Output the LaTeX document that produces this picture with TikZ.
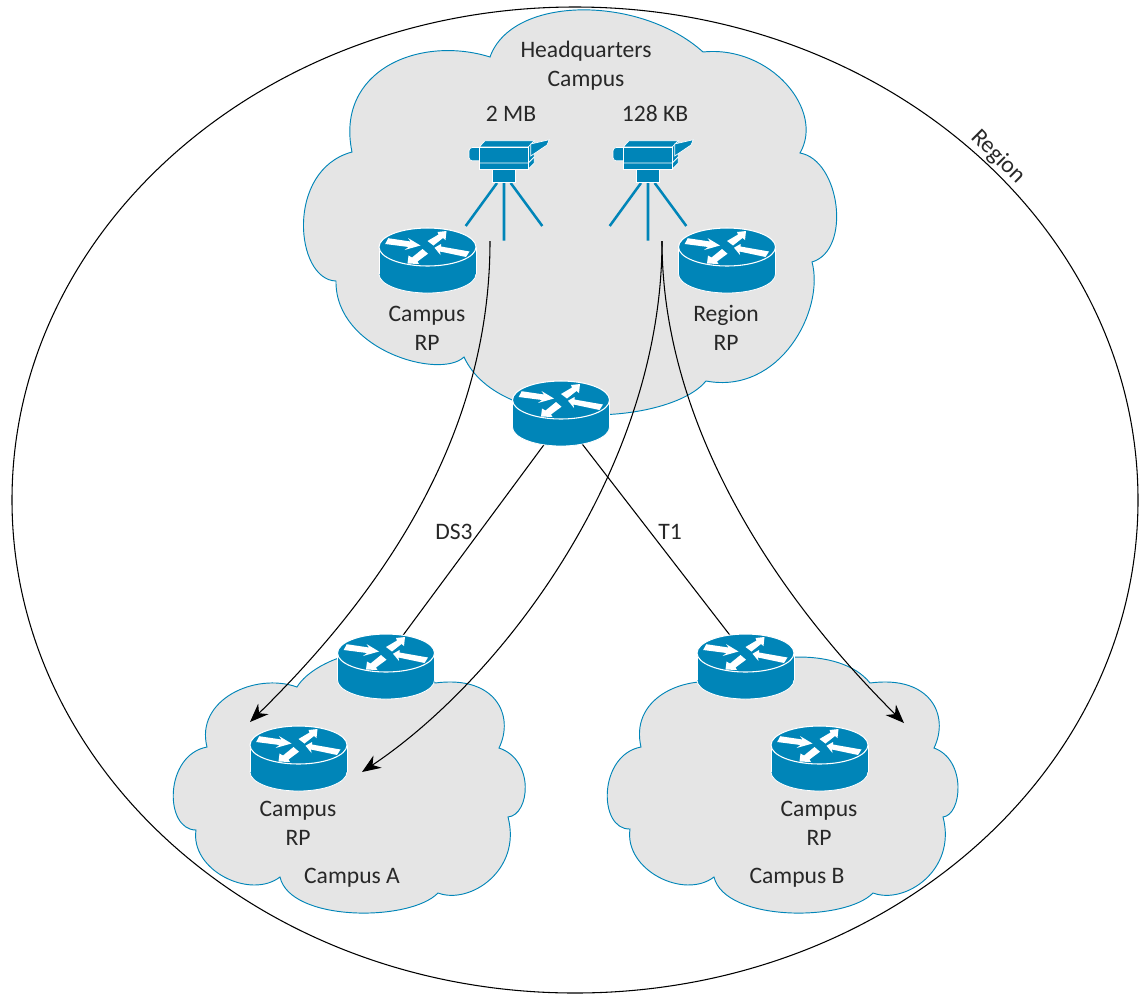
\documentclass[tikz,border=0pt]{standalone}
\usepackage{fontspec}
\setmainfont{Carlito}
\usetikzlibrary{arrows.meta,backgrounds}

\definecolor{ciscoblue}{RGB}{0,133,184}
\definecolor{cloudgrey}{RGB}{229,229,229}
\definecolor{labelgrey}{RGB}{40,40,40}

\tikzset{
  router/.pic={
    \fill[ciscoblue,draw=white,line width=.6pt] (0,27) ellipse (48.5 and 19);
    \fill[ciscoblue] (-48.5,0) rectangle (48.5,27);
    \draw[white,line width=.6pt] (-48.5,0) -- (-48.5,27) (48.5,0) -- (48.5,27);
    \fill[ciscoblue,draw=white,line width=.8pt] (0,0) ellipse (48.5 and 19);
    \fill[white] (-39.3,-8.8) -- (-17,-5.5) -- (-19.5,-9) -- (-7,-1.5) -- (-23,3) -- (-19,0) -- (-42.3,-3) -- cycle;
    \fill[white] (0,-6) -- (11,-12.5) -- (10,-15) -- (19,-16) -- (18,-7) -- (15.5,-9) -- (6,-1.5) -- cycle;
    \fill[white] (7,.7) -- (13.5,-3) -- (13.5,-.5) -- (42,4.5) -- (38.5,10) -- (12.5,4.5) -- (13,8) -- cycle;
    \fill[white] (-20,16.5) -- (-19,8.5) -- (-15.5,10.5) -- (-5,2) -- (0.5,6.7) -- (-10,14.5) -- (-8.5,17) -- cycle;
    \node[routerbox] (-box) at (0,13.5) {};
  },
  camera/.pic={
    \draw[ciscoblue,line width=1.9pt] (-7,1) -- (-38.3,44) (0,1) -- (0,58.7) (6.7,1) -- (38.3,44);
    \fill[ciscoblue,draw=white,line width=.5pt,rounded corners=2.5pt] (-35,-34.5) rectangle (-22,-21.2);
    \fill[ciscoblue,draw=white,line width=.5pt] (-24.7,-35) -- (-19,-41.3) -- (30.3,-41.3) -- (24.3,-35) -- cycle;
    \fill[ciscoblue,draw=white,line width=.5pt] (24.3,-35) -- (30.3,-41.3) -- (30.3,-19) -- (24.3,-13) -- cycle;
    \fill[ciscoblue,draw=white,line width=.5pt] (-24.7,-35) rectangle (24.3,-13);
    \draw[white,line width=.6pt] (-24.7,-19) -- (24.3,-19) -- (30.3,-25);
    \fill[ciscoblue,draw=white,line width=.5pt] (26.7,-38) -- (45.3,-42.3) -- (43,-37) -- (26.7,-26) -- cycle;
    \fill[ciscoblue,draw=white,line width=.5pt] (-11.3,-12.3) rectangle (11.3,0);
  },
  routerbox/.style={inner sep=0pt,minimum width=72.75pt,minimum height=48.75pt},
  cloud/.style={fill=cloudgrey,draw=ciscoblue,line width=.7pt},
  flow/.style={black,line width=.8pt,->},
  link/.style={black,line width=.8pt,shorten <=-2pt,shorten >=-2pt},
  txt/.style={text=labelgrey,font=\fontsize{17.7}{21.6}\selectfont,align=center,inner sep=0pt}
}

\begin{document}
\begin{tikzpicture}[x=0.75pt, y=-0.75pt, >={Stealth[length=14pt,width=11pt]}]
  \useasboundingbox (0,0) rectangle (1142,993);

  % routers
  \pic (campusrp) at (427.5,247) {router};
  \pic (regionrp) at (727,247) {router};
  \pic (hqrouter) at (561,400) {router};
  \pic (routera) at (386,653) {router};
  \pic (rpa) at (298.5,745) {router};
  \pic (routerb) at (745.5,653) {router};
  \pic (rpb) at (819.5,745) {router};

  % cameras
  \pic at (504,182) {camera};
  \pic at (648,182) {camera};

  % free ends of the streams
  \coordinate (feedone) at (490,241);
  \coordinate (feedtwo) at (662,241);
  \coordinate (tipa) at (250,722);
  \coordinate (tipb) at (362,772);
  \coordinate (tipc) at (904,723);

  \begin{scope}[on background layer]
    % the region
    \draw[black,line width=.8pt] (575,500) ellipse (563 and 493);

    % headquarters cloud
    \path[cloud] (490,57) .. controls (512,-5) and (640,-5) .. (703,52)
      .. controls (770,45) and (825,110) .. (800,153)
      .. controls (840,160) and (852,250) .. (812,262)
      .. controls (825,310) and (780,395) .. (706,381)
      .. controls (670,425) and (500,435) .. (464,357)
      .. controls (440,380) and (335,350) .. (336,281)
      .. controls (295,280) and (285,170) .. (352,152)
      .. controls (335,70) and (420,35) .. (490,57) -- cycle;

    % campus A cloud
    \path[cloud] (297,687) .. controls (315,657) and (400,627) .. (435,683)
      .. controls (495,675) and (515,715) .. (499,748)
      .. controls (535,760) and (530,815) .. (508,817)
      .. controls (522,870) and (470,905) .. (438,893)
      .. controls (410,922) and (290,922) .. (280,877)
      .. controls (250,900) and (190,870) .. (196,830)
      .. controls (164,830) and (164,755) .. (207,747)
      .. controls (195,700) and (255,672) .. (297,687) -- cycle;

    % campus B cloud
    \path[cloud] (725,683) .. controls (750,652) and (840,645) .. (870,683)
      .. controls (930,675) and (950,715) .. (934,748)
      .. controls (967,760) and (962,815) .. (943,817)
      .. controls (957,870) and (905,905) .. (873,893)
      .. controls (845,922) and (725,922) .. (714,877)
      .. controls (684,900) and (624,870) .. (630,829)
      .. controls (598,830) and (598,755) .. (641,747)
      .. controls (630,700) and (680,675) .. (725,683) -- cycle;

    % WAN links
    \draw[link] (hqrouter-box.-119) -- (routera-box.61);
    \draw[link] (hqrouter-box.-55) -- (routerb-box.117);

    % streams
    \draw[flow] (feedone) .. controls (490,420) and (400,575) .. (tipa);
    \draw[flow] (feedtwo) .. controls (662,470) and (500,680) .. (tipb);
    \draw[flow] (feedtwo) .. controls (662,420) and (770,590) .. (tipc);
  \end{scope}

  % labels
  \node[txt] (hqlabel) at (586,65.5) {Headquarters\\Campus};
  \node[txt] (twomb) at (511,114) {2 MB};
  \node[txt] (kb) at (655,114) {128 KB};
  \node[txt] (campuslabel) at (427,328) {Campus\\RP};
  \node[txt] (regionlabel) at (726,328) {Region\\RP};
  \node[txt] (dsthree) at (454,532) {DS3};
  \node[txt] (tone) at (670,532) {T1};
  \node[txt] (rpalabel) at (298,823) {Campus\\RP};
  \node[txt] (rpblabel) at (819,823) {Campus\\RP};
  \node[txt] (campusa) at (352,878) {Campus A};
  \node[txt] (campusb) at (797,878) {Campus B};
  \node[txt,rotate=-45] (regionname) at (998,157) {Region};
\end{tikzpicture}
\end{document}
